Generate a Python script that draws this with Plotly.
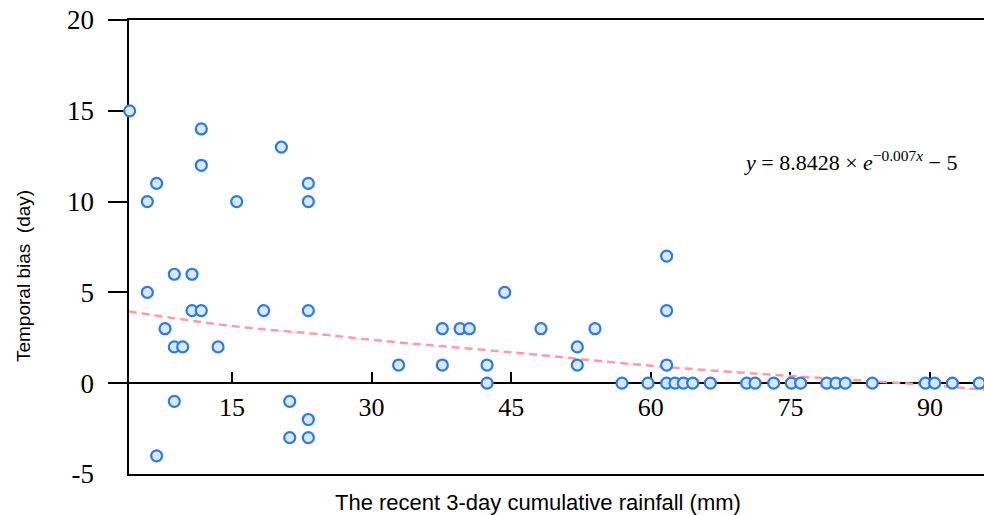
import plotly.graph_objects as go

# ---- data ----
rain_mm = [4.0, 5.9, 6.9, 5.9, 7.8, 8.8, 8.8, 9.7, 8.8, 6.9,
           10.7, 10.7, 11.7, 11.7, 11.7, 13.5, 15.5, 18.4, 20.3, 21.2,
           21.2, 23.2, 23.2, 23.2, 23.2, 23.2,
           32.9, 37.6, 37.6, 39.5, 40.5, 42.4, 42.4, 44.3, 48.2, 52.1,
           52.1, 54.0, 56.9, 59.7, 61.7, 61.7, 61.7, 61.7,
           62.6, 63.5, 64.5, 66.4, 70.3, 71.2, 73.2, 75.1, 76.1, 78.9,
           79.9, 80.9, 83.8, 89.5, 90.5, 92.4, 95.3]
bias_day = [15, 10, 11, 5, 3, 6, 2, 2, -1, -4,
            6, 4, 4, 14, 12, 2, 10, 4, 13, -1,
            -3, 11, 10, 4, -2, -3,
            1, 3, 1, 3, 3, 1, 0, 5, 3, 2,
            1, 3, 0, 0, 7, 4, 1, 0,
            0, 0, 0, 0, 0, 0, 0, 0, 0, 0,
            0, 0, 0, 0, 0, 0, 0]

# fitted curve as drawn in the reference
fit_x = [3.9, 15, 24.5, 31, 45, 60.3, 75, 84, 90, 96]
fit_y = [3.95, 3.15, 2.69, 2.34, 1.7, 0.95, 0.4, 0.1, -0.1, -0.37]

x_ticks = [15, 30, 45, 60, 75, 90]
y_ticks = [-5, 0, 5, 10, 15, 20]
y_tick_marks = [0, 5, 10, 15, 20]

X_RANGE = [3.93, 95.8]
Y_RANGE = [-5, 20]

serif = "Liberation Serif, Times New Roman, serif"
sans = "Liberation Sans, Arial, sans-serif"

fig = go.Figure()

fig.add_trace(go.Scatter(
    x=fit_x, y=fit_y, mode="lines", line_shape="spline",
    line=dict(color="#ff9aaa", width=2.5, dash="8px,5px"),
    hoverinfo="skip", showlegend=False))

fig.add_trace(go.Scatter(
    x=rain_mm, y=bias_day, mode="markers", cliponaxis=False,
    marker=dict(symbol="circle", size=11, color="#d8e7f9",
                line=dict(color="#2a7be3", width=2.2)),
    showlegend=False))

# invisible anchor trace for the overlay axes
fig.add_trace(go.Scatter(x=[None], y=[None], xaxis="x2", yaxis="y2",
                         mode="markers", showlegend=False, hoverinfo="skip"))

fig.update_layout(
    width=984, height=515,
    margin=dict(l=129, r=0, t=20, b=41),
    paper_bgcolor="white", plot_bgcolor="white",
    xaxis=dict(range=X_RANGE, showgrid=False, zeroline=False,
               showline=True, linecolor="black", linewidth=2, mirror=True,
               ticks="", showticklabels=False, layer="below traces"),
    yaxis=dict(range=Y_RANGE, showgrid=False, zeroline=False,
               showline=True, linecolor="black", linewidth=2,
               tickmode="array", tickvals=y_tick_marks, ticks="outside",
               ticklen=19, tickwidth=2, tickcolor="black",
               showticklabels=False, layer="below traces"),
    xaxis2=dict(overlaying="x", anchor="free", position=0.2, range=X_RANGE,
                showgrid=False, zeroline=False, showline=True,
                linecolor="black", linewidth=2, side="bottom",
                tickmode="array", tickvals=x_ticks,
                ticktext=[str(v) for v in x_ticks],
                ticks="inside", ticklen=10, tickwidth=2, tickcolor="black",
                ticklabelstandoff=1,
                tickfont=dict(family=serif, size=26, color="black"),
                layer="below traces"),
    yaxis2=dict(overlaying="y", anchor="x", side="left", range=Y_RANGE,
                showgrid=False, zeroline=False, showline=False,
                tickmode="array", tickvals=y_ticks,
                ticktext=[str(v) for v in y_ticks],
                ticks="", ticklabelstandoff=34,
                tickfont=dict(family=serif, size=27, color="black")),
    annotations=[
        dict(text="Temporal bias  (day)", xref="paper", yref="paper",
             x=-0.124, y=0.436, xanchor="center", yanchor="middle",
             textangle=-90, showarrow=False,
             font=dict(family=sans, size=19, color="black")),
        dict(text="The recent 3-day cumulative rainfall (mm)",
             xref="paper", yref="paper", x=0.4778, y=-0.062,
             xanchor="center", yanchor="middle", showarrow=False,
             font=dict(family=sans, size=22, color="black")),
        dict(text="<i>y</i> = 8.8428 × <i>e</i><sup>−0.007<i>x</i></sup> − 5",
             xref="paper", yref="paper", x=0.8433, y=0.69,
             xanchor="center", yanchor="middle", showarrow=False,
             font=dict(family=serif, size=22, color="black")),
    ],
)

fig.write_html("out.html",
               config={"displayModeBar": False},
               post_script="document.body.style.margin='0';"
                           "document.body.style.overflow='hidden';")
